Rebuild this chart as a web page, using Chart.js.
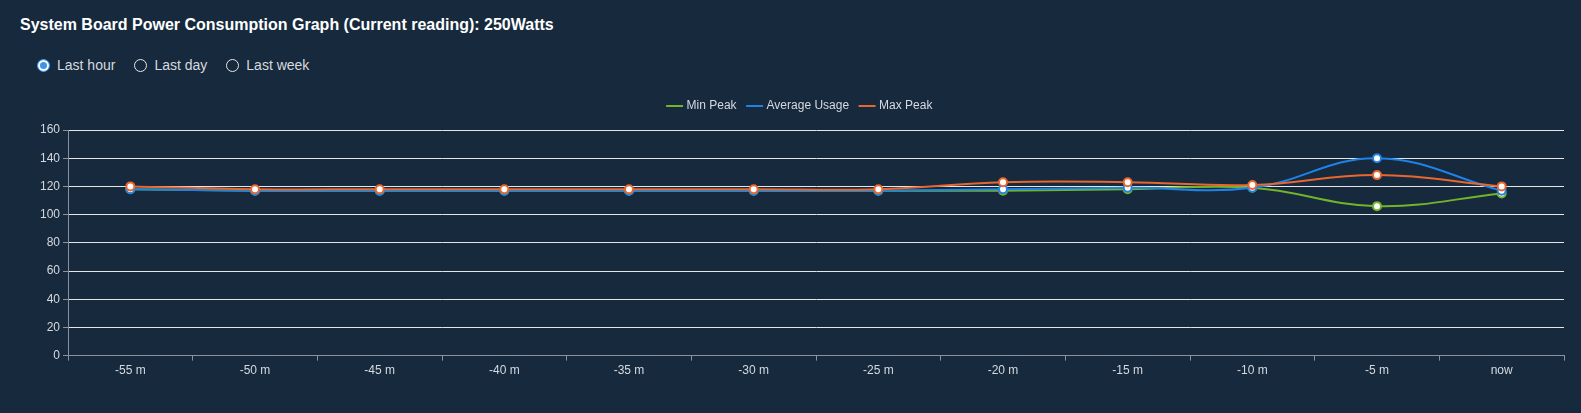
<!DOCTYPE html>
<html>
<head>
<meta charset="utf-8">
<script src="https://cdn.jsdelivr.net/npm/chart.js@4/dist/chart.umd.min.js"></script>
<style>
  body {
    margin: 0;
    width: 1581px;
    height: 413px;
    background: #16293d;
    font-family: Arial, "Liberation Sans", sans-serif;
    overflow: hidden;
    position: relative;
  }
  .title {
    position: absolute;
    left: 20px;
    top: 16px;
    color: #fff;
    font-weight: bold;
    font-size: 16px;
  }
  .range {
    position: absolute;
    left: 37px;
    top: 57px;
    color: #d6d9de;
    font-size: 14px;
    display: flex;
    align-items: center;
  }
  .range label {
    display: flex;
    align-items: center;
    margin-right: 19px;
  }
  .range input {
    appearance: none;
    -webkit-appearance: none;
    width: 13px;
    height: 13px;
    border: 1px solid #e8e8e8;
    border-radius: 50%;
    margin: 0 7px 0 0;
    background: #16293d;
    box-sizing: border-box;
  }
  .range input:checked {
    border: 1px solid #4aa3f0;
    background: #3d93e8;
    box-shadow: inset 0 0 0 2px #fff;
  }
  .wrap {
    position: absolute;
    left: 0;
    top: 88px;
    width: 1581px;
    height: 320px;
  }
</style>
</head>
<body>
<div class="title">System Board Power Consumption Graph (Current reading): 250Watts</div>
<div class="range">
  <label><input type="radio" name="range" checked>Last hour</label>
  <label><input type="radio" name="range">Last day</label>
  <label><input type="radio" name="range">Last week</label>
</div>
<div class="wrap"><canvas id="powerChart"></canvas></div>
<script>
const labels = ["-55 m", "-50 m", "-45 m", "-40 m", "-35 m", "-30 m", "-25 m", "-20 m", "-15 m", "-10 m", "-5 m", "now"];
const minPeak = [118, 117, 117, 117, 117, 117, 117, 117, 118, 119, 106, 115];
const avgUsage = [118, 117, 117, 117, 117, 117, 117, 118, 119, 119, 140, 117];
const maxPeak = [120, 118, 118, 118, 118, 118, 118, 123, 123, 121, 128, 120];

function series(label, data, color, order) {
  return {
    label: label,
    data: data,
    order: order,
    borderColor: color,
    backgroundColor: color,
    borderWidth: 2,
    tension: 0.4,
    pointRadius: 4,
    pointBorderWidth: 2,
    pointBackgroundColor: "#fff",
    pointBorderColor: color,
    fill: false,
  };
}

// a bit more room between the legend and the plot
const legendGap = {
  id: "legendGap",
  beforeInit(chart) {
    const fit = chart.legend.fit;
    chart.legend.fit = function () {
      fit.bind(chart.legend)();
      this.height += 8;
    };
  },
};

const ctx = document.getElementById("powerChart").getContext("2d");
new Chart(ctx, {
  type: "line",
  data: {
    labels: labels,
    datasets: [
      series("Min Peak", minPeak, "#72b52a", 3),
      series("Average Usage", avgUsage, "#1f82e6", 2),
      series("Max Peak", maxPeak, "#e8672f", 1),
    ],
  },
  plugins: [legendGap],
  options: {
    responsive: true,
    maintainAspectRatio: false,
    animation: false,
    layout: {
      padding: { left: 37, right: 17, bottom: 27 },
    },
    scales: {
      x: {
        offset: true,
        grid: {
          offset: true,
          drawOnChartArea: false,
          tickLength: 5,
          tickColor: "#8a939d",
        },
        border: { color: "#8a939d" },
        ticks: {
          color: "#d6d9de",
          font: { size: 12, family: "Arial" },
          maxRotation: 0,
        },
      },
      y: {
        min: 0,
        max: 160,
        ticks: {
          stepSize: 20,
          color: "#d6d9de",
          font: { size: 12, family: "Arial" },
        },
        grid: {
          color: "#e6e6e6",
          tickColor: "#8a939d",
          tickLength: 5,
        },
        border: { color: "#8a939d" },
      },
    },
    plugins: {
      legend: {
        labels: {
          color: "#d6d9de",
          font: { size: 12, family: "Arial" },
          usePointStyle: true,
          pointStyle: "line",
          boxWidth: 16,
          padding: 12,
          sort: (a, b) => a.datasetIndex - b.datasetIndex,
        },
      },
      tooltip: { enabled: false },
    },
  },
});
</script>
</body>
</html>
